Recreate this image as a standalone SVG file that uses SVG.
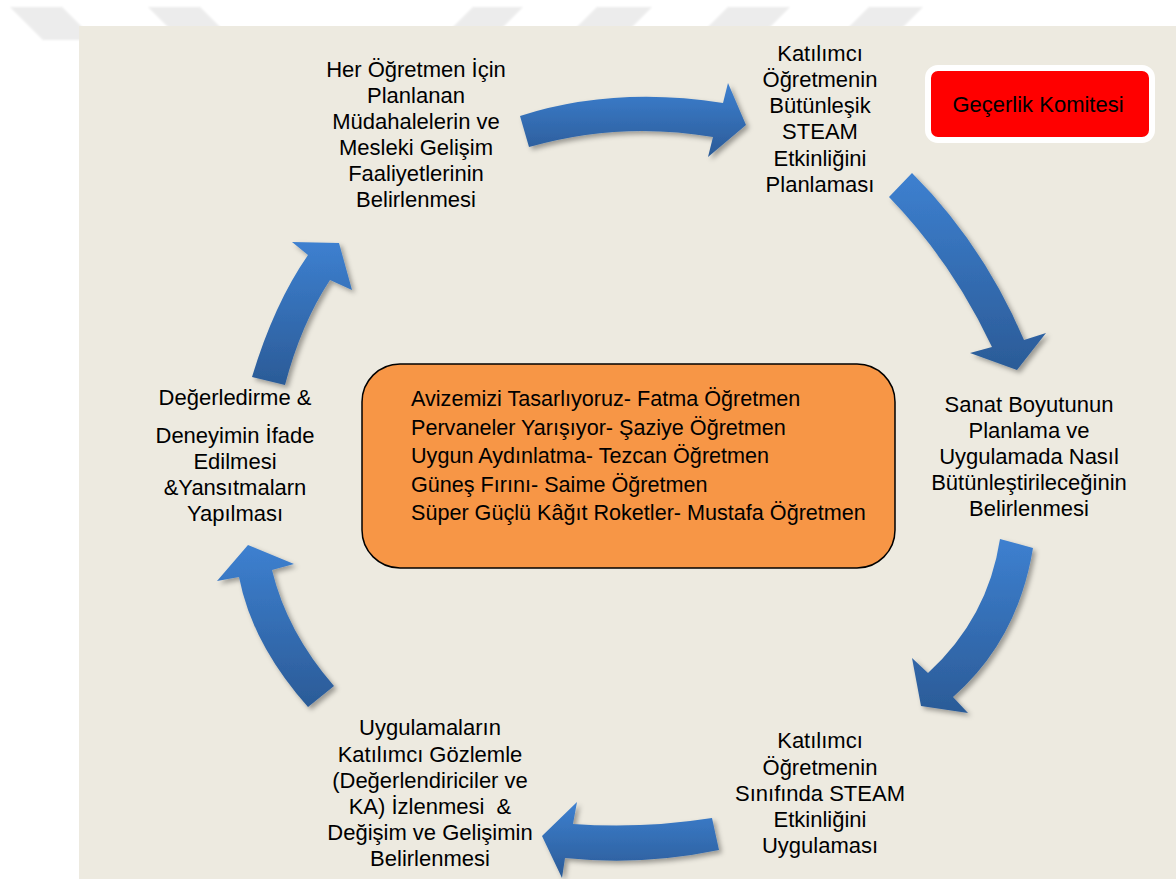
<svg xmlns="http://www.w3.org/2000/svg" width="1176" height="879" viewBox="0 0 1176 879">
<defs>
<style>
.lbl{font-family:"Liberation Sans",Arial,sans-serif;font-size:22px;fill:#000;text-anchor:middle;}
.lst{font-family:"Liberation Sans",Arial,sans-serif;font-size:21.6px;fill:#000;}
.arrow{fill:url(#blue);filter:url(#shadow);}
.wm{fill:#ececec;filter:url(#soft);}
</style>
<linearGradient id="blue" x1="0" y1="0" x2="0" y2="1">
<stop offset="0" stop-color="#3d80d0"/>
<stop offset="1" stop-color="#2b5b97"/>
</linearGradient>
<filter id="shadow" x="-30%" y="-30%" width="160%" height="160%">
<feDropShadow dx="3" dy="3" stdDeviation="2.5" flood-color="#000" flood-opacity="0.35"/>
</filter>
<filter id="soft" x="-20%" y="-20%" width="140%" height="140%">
<feGaussianBlur stdDeviation="1.2"/>
</filter>
</defs>
<rect x="0" y="0" width="1176" height="879" fill="#ffffff"/>
<g id="watermark">
<polygon class="wm" points="10,7 62,7 95,40 43,40"/>
<polygon class="wm" points="148,7 200,7 233,40 181,40"/>
<polygon class="wm" points="473,7 523,7 490,40 440,40"/>
<polygon class="wm" points="597,7 652,7 619,40 564,40"/>
<polygon class="wm" points="728,7 790,7 757,40 695,40"/>
<polygon class="wm" points="869,7 923,7 890,40 836,40"/>
</g>
<rect id="panel" x="79" y="26" width="1097" height="853" fill="#edeae0"/>
<g id="connectors">
<path class="arrow" d="M520,116 Q614,86 723,103 L728,83 L746,125 L708,157 L713,137 Q620,121 529,147 Z"/>
<path class="arrow" d="M912,173 Q983,244 1024,340 L1046,333 L1017,370 L970,353 L992,347 Q952,262 889,197 Z"/>
<path class="arrow" d="M1033,548 Q1018,640 953,697 L968,713 L921,706 L912,658 L928,673 Q988,618 1000,539 Z"/>
<path class="arrow" d="M712,818 Q642,829 573,824 L577,802 L542,836 L562,878 L565,858 Q642,866 719,850 Z"/>
<path class="arrow" d="M308,707 Q252,644 239,577 L217,581 L248,545 L294,564 L272,570 Q287,632 334,686 Z"/>
<path class="arrow" d="M252,377 Q274,304 308,255 L292,242 L339,243 L352,290 L330,280 Q301,324 285,385 Z"/>
</g>
<g id="node-planlanan">
<text class="lbl"><tspan x="416" y="77">Her Öğretmen İçin</tspan><tspan x="416" y="103">Planlanan</tspan><tspan x="416" y="129">Müdahalelerin ve</tspan><tspan x="416" y="155">Mesleki Gelişim</tspan><tspan x="416" y="181">Faaliyetlerinin</tspan><tspan x="416" y="207">Belirlenmesi</tspan></text>
</g>
<g id="node-planlamasi">
<text class="lbl"><tspan x="820" y="61">Katılımcı</tspan><tspan x="820" y="87">Öğretmenin</tspan><tspan x="820" y="113">Bütünleşik</tspan><tspan x="820" y="139">STEAM</tspan><tspan x="820" y="166">Etkinliğini</tspan><tspan x="820" y="192">Planlaması</tspan></text>
</g>
<g id="node-komite">
<rect x="928" y="68" width="224" height="72" rx="10" fill="#ff0000" stroke="#ffffff" stroke-width="6"/>
<text class="lbl" x="1038" y="112">Geçerlik Komitesi</text>
</g>
<g id="node-sanat">
<text class="lbl"><tspan x="1029" y="412">Sanat Boyutunun</tspan><tspan x="1029" y="438">Planlama ve</tspan><tspan x="1029" y="464">Uygulamada Nasıl</tspan><tspan x="1029" y="490">Bütünleştirileceğinin</tspan><tspan x="1029" y="516">Belirlenmesi</tspan></text>
</g>
<g id="node-uygulamasi">
<text class="lbl"><tspan x="820" y="748">Katılımcı</tspan><tspan x="820" y="775">Öğretmenin</tspan><tspan x="820" y="801">Sınıfında STEAM</tspan><tspan x="820" y="827">Etkinliğini</tspan><tspan x="820" y="853">Uygulaması</tspan></text>
</g>
<g id="node-gozlem">
<text class="lbl" style="white-space:pre"><tspan x="430" y="735">Uygulamaların</tspan><tspan x="430" y="762">Katılımcı Gözlemle</tspan><tspan x="430" y="788">(Değerlendiriciler ve</tspan><tspan x="430" y="814">KA) İzlenmesi  &amp;</tspan><tspan x="430" y="840">Değişim ve Gelişimin</tspan><tspan x="430" y="866">Belirlenmesi</tspan></text>
</g>
<g id="node-degerlendirme">
<text class="lbl"><tspan x="235" y="405">Değerledirme &amp;</tspan><tspan x="235" y="443">Deneyimin İfade</tspan><tspan x="235" y="469">Edilmesi</tspan><tspan x="235" y="495">&amp;Yansıtmalarn</tspan><tspan x="235" y="521">Yapılması</tspan></text>
</g>
<g id="node-etkinlikler">
<rect x="362" y="364" width="533" height="204" rx="38" fill="#f79646" stroke="#000" stroke-width="1.5"/>
<text class="lst"><tspan x="411" y="406">Avizemizi Tasarlıyoruz- Fatma Öğretmen</tspan><tspan x="411" y="434.5">Pervaneler Yarışıyor- Şaziye Öğretmen</tspan><tspan x="411" y="463">Uygun Aydınlatma- Tezcan Öğretmen</tspan><tspan x="411" y="491.5">Güneş Fırını- Saime Öğretmen</tspan><tspan x="411" y="520">Süper Güçlü Kâğıt Roketler- Mustafa Öğretmen</tspan></text>
</g>
</svg>
